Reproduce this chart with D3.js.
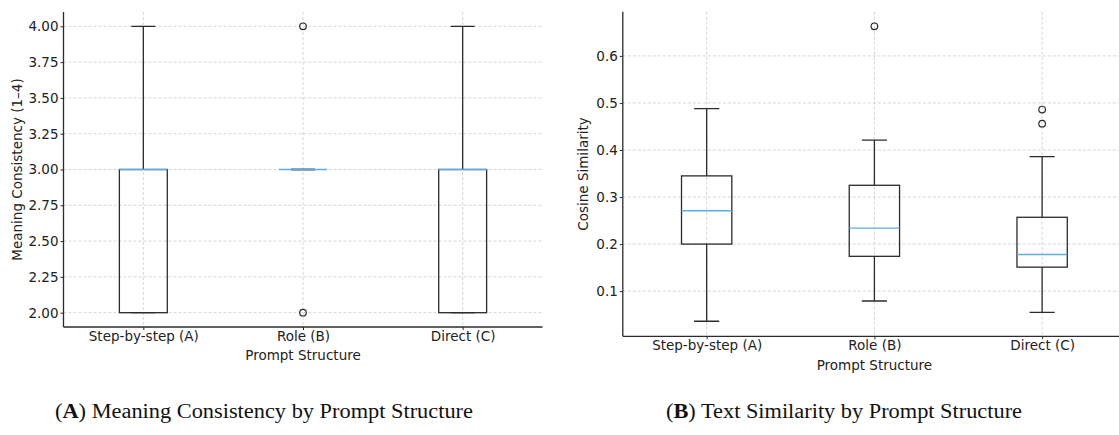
<!DOCTYPE html>
<html>
<head>
<meta charset="utf-8">
<script src="https://cdn.jsdelivr.net/npm/d3@7"></script>
<style>
  html, body { margin: 0; padding: 0; background: #fff; }
  svg { display: block; }
</style>
</head>
<body>
<svg id="chart" width="1119" height="435"></svg>
<script>
// ---------- data ----------
const categories = ["Step-by-step (A)", "Role (B)", "Direct (C)"];

// Panel A: Meaning Consistency (1–4)
const meaningWhiskerLow  = [2, 3, 2];
const meaningQ1          = [2, 3, 2];
const meaningMedian      = [3, 3, 3];
const meaningQ3          = [3, 3, 3];
const meaningWhiskerHigh = [4, 3, 4];
const meaningOutliers    = [[], [4, 2], []];
const meaningTicks       = [2.00, 2.25, 2.50, 2.75, 3.00, 3.25, 3.50, 3.75, 4.00];

// Panel B: Cosine Similarity
const simWhiskerLow  = [0.036, 0.079, 0.055];
const simQ1          = [0.200, 0.174, 0.151];
const simMedian      = [0.271, 0.234, 0.178];
const simQ3          = [0.345, 0.325, 0.257];
const simWhiskerHigh = [0.488, 0.421, 0.386];
const simOutliers    = [[], [0.663], [0.486, 0.456]];
const simTicks       = [0.1, 0.2, 0.3, 0.4, 0.5, 0.6];

const xLabel = "Prompt Structure";
const captionA = ["A", " Meaning Consistency by Prompt Structure"];
const captionB = ["B", " Text Similarity by Prompt Structure"];

// ---------- drawing ----------
const svg = d3.select("#chart");
const FONT = "DejaVu Sans, sans-serif";
const FS = 13.5;
const INK = "#2b2b2b";
const MEDIAN = "#5aaee6";
const GRID = "#cbcbcb";

function panel(opts) {
  const g = svg.append("g");
  const x = d3.scaleLinear().domain([0.5, 3.5]).range([opts.left, opts.right]);
  const y = d3.scaleLinear().domain(opts.domain).range([opts.bottom, opts.top]);
  const pos = categories.map((c, i) => i + 1);

  const clipId = "clip" + opts.id;
  svg.append("clipPath").attr("id", clipId).append("rect")
    .attr("x", opts.left).attr("y", opts.top)
    .attr("width", opts.right - opts.left).attr("height", opts.bottom - opts.top);

  const plot = g.append("g").attr("clip-path", `url(#${clipId})`);

  // grid
  plot.selectAll(".hg").data(opts.ticks).join("line")
    .attr("x1", opts.left).attr("x2", opts.right)
    .attr("y1", d => y(d)).attr("y2", d => y(d))
    .attr("stroke", GRID).attr("stroke-width", 0.8).attr("stroke-dasharray", "3,2");
  plot.selectAll(".vg").data(pos).join("line")
    .attr("x1", d => x(d)).attr("x2", d => x(d))
    .attr("y1", opts.top).attr("y2", opts.bottom)
    .attr("stroke", GRID).attr("stroke-width", 0.8).attr("stroke-dasharray", "3,2");

  const bw = 0.3, cw = 0.15;
  pos.forEach((p, i) => {
    const bg = plot.append("g");
    bg.append("line").attr("x1", x(p)).attr("x2", x(p))
      .attr("y1", y(opts.q3[i])).attr("y2", y(opts.high[i]))
      .attr("stroke", INK).attr("stroke-width", 1.3);
    bg.append("line").attr("x1", x(p)).attr("x2", x(p))
      .attr("y1", y(opts.q1[i])).attr("y2", y(opts.low[i]))
      .attr("stroke", INK).attr("stroke-width", 1.3);
    [opts.high[i], opts.low[i]].forEach(v => {
      bg.append("line").attr("x1", x(p - cw / 2)).attr("x2", x(p + cw / 2))
        .attr("y1", y(v)).attr("y2", y(v))
        .attr("stroke", INK).attr("stroke-width", 1.3);
    });
    bg.append("rect")
      .attr("x", x(p - bw / 2)).attr("width", x(p + bw / 2) - x(p - bw / 2))
      .attr("y", y(opts.q3[i])).attr("height", Math.max(0, y(opts.q1[i]) - y(opts.q3[i])))
      .attr("fill", "none").attr("stroke", INK).attr("stroke-width", 1.3);
    bg.append("line").attr("x1", x(p - bw / 2)).attr("x2", x(p + bw / 2))
      .attr("y1", y(opts.median[i])).attr("y2", y(opts.median[i]))
      .attr("stroke", MEDIAN).attr("stroke-width", 1.4);
    bg.selectAll("circle").data(opts.outliers[i]).join("circle")
      .attr("cx", x(p)).attr("cy", d => y(d)).attr("r", 3.3)
      .attr("fill", "none").attr("stroke", INK).attr("stroke-width", 1.2);
  });

  // axes
  const yAxis = d3.axisLeft(y).tickValues(opts.ticks).tickFormat(d3.format(opts.fmt))
    .tickSize(3).tickPadding(2);
  const ya = g.append("g").attr("transform", `translate(${opts.left},0)`).call(yAxis);
  const xAxis = d3.axisBottom(x).tickValues(pos).tickFormat((d, i) => categories[i])
    .tickSize(3).tickPadding(1);
  const xa = g.append("g").attr("transform", `translate(0,${opts.bottom})`).call(xAxis);
  [ya, xa].forEach(a => {
    a.select(".domain").attr("stroke", INK).attr("stroke-width", 1.3);
    a.selectAll(".tick line").attr("stroke", INK).attr("stroke-width", 1);
    a.selectAll("text").attr("font-family", FONT).attr("font-size", FS).attr("fill", "#222");
  });
  ya.select(".domain").attr("d", `M0,${opts.top}V${opts.bottom}`);
  xa.select(".domain").attr("d", `M${opts.left},0H${opts.right}`);

  // axis labels
  g.append("text")
    .attr("transform", `translate(${opts.yLabelX},${(opts.top + opts.bottom) / 2}) rotate(-90)`)
    .attr("text-anchor", "middle").attr("dominant-baseline", "central")
    .attr("font-family", FONT).attr("font-size", FS).attr("fill", "#222")
    .text(opts.yLabel);
  g.append("text")
    .attr("x", x(2)).attr("y", opts.xLabelY)
    .attr("text-anchor", "middle").attr("dominant-baseline", "central")
    .attr("font-family", FONT).attr("font-size", FS).attr("fill", "#222")
    .text(xLabel);

  // caption
  const cap = svg.append("text")
    .attr("x", opts.capX).attr("y", 418)
    .attr("text-anchor", "middle")
    .attr("textLength", opts.capW).attr("lengthAdjust", "spacingAndGlyphs")
    .attr("font-family", "Liberation Serif, serif").attr("font-size", 20).attr("fill", "#111");
  cap.append("tspan").text("(");
  cap.append("tspan").attr("font-weight", "bold").text(opts.caption[0]);
  cap.append("tspan").text(")" + opts.caption[1]);
}

panel({
  id: "A", left: 63.5, right: 542.5, top: 12, bottom: 327,
  domain: [1.9, 4.1], ticks: meaningTicks, fmt: ".2f",
  low: meaningWhiskerLow, q1: meaningQ1, median: meaningMedian, q3: meaningQ3,
  high: meaningWhiskerHigh, outliers: meaningOutliers,
  yLabel: "Meaning Consistency (1\u20134)", yLabelX: 17, xLabelY: 355,
  caption: captionA, capX: 264, capW: 418
});

panel({
  id: "B", left: 622.8, right: 1126, top: 11.7, bottom: 336.3,
  domain: [0.004, 0.694], ticks: simTicks, fmt: ".1f",
  low: simWhiskerLow, q1: simQ1, median: simMedian, q3: simQ3,
  high: simWhiskerHigh, outliers: simOutliers,
  yLabel: "Cosine Similarity", yLabelX: 583, xLabelY: 365,
  caption: captionB, capX: 844, capW: 356
});
</script>
</body>
</html>
